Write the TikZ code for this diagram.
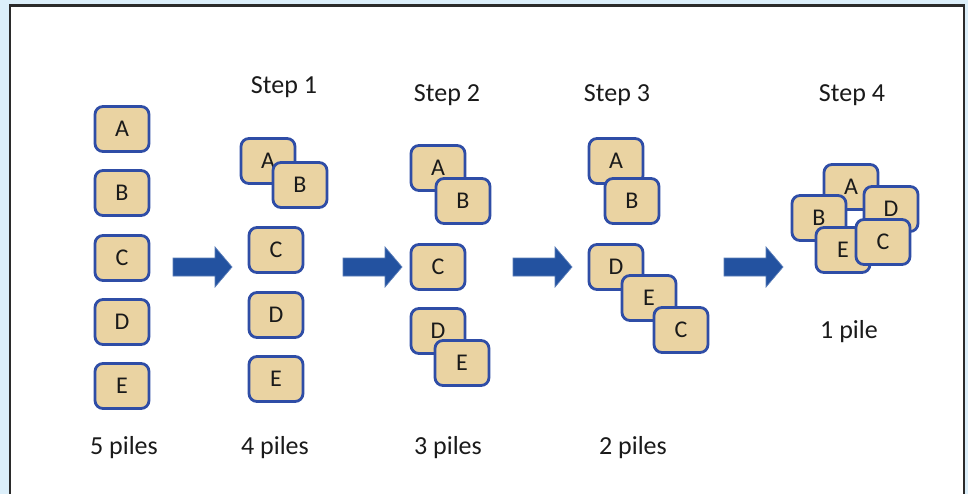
\documentclass[tikz,border=0pt]{standalone}
\usepackage{fontspec}
\setmainfont{Carlito}
\definecolor{bgblue}{HTML}{DCEFFA}
\definecolor{frameC}{HTML}{2B2B2B}
\definecolor{cardfill}{HTML}{EAD3A2}
\definecolor{cardedge}{HTML}{2F4DA6}
\definecolor{arrowC}{HTML}{2352A0}
\definecolor{txt}{HTML}{1A1A1A}
\begin{document}
\begin{tikzpicture}[x=1pt,y=-1pt,
  card/.style={draw=cardedge, line width=2.8pt, fill=cardfill, rounded corners=8pt,
    minimum width=54pt, minimum height=45pt, inner sep=0pt,
    font=\fontsize{24}{26}\selectfont, text=txt},
  lbl/.style={font=\fontsize{26}{30}\selectfont, text=txt, inner sep=0pt},
  blockarrow/.pic={\draw[fill=arrowC, draw=arrowC!75!white, line width=0.7pt]
     (0,-9) -- (42,-9) -- (42,-20) -- (59,0) -- (42,20) -- (42,9) -- (0,9) -- cycle;}]
\useasboundingbox (0,0) rectangle (968,494);
\clip (0,0) rectangle (968,494);
\fill[bgblue] (0,0) rectangle (968,494);
\draw[frameC, line width=2.6pt, fill=white] (10,5.5) rectangle (964,530);

% column 0: 5 piles
\node[card] (a1) at (122,129) {A};
\node[card] (b1) at (122,193) {B};
\node[card] (c1) at (122,258) {C};
\node[card] (d1) at (122,322) {D};
\node[card] (e1) at (122,386) {E};
\node[lbl] (l1) at (124,448) {5 piles};

% step 1
\node[lbl] (s1) at (284,87) {Step 1};
\node[card] (a2) at (268,161) {A};
\node[card] (b2) at (300,185) {B};
\node[card] (c2) at (276,250) {C};
\node[card] (d2) at (276,315) {D};
\node[card] (e2) at (276,379) {E};
\node[lbl] (l2) at (275,448) {4 piles};

% step 2
\node[lbl] (s2) at (447,95) {Step 2};
\node[card] (a3) at (438,168) {A};
\node[card] (b3) at (463,201) {B};
\node[card] (c3) at (438,267) {C};
\node[card] (d3) at (438,331) {D};
\node[card] (e3) at (462,363) {E};
\node[lbl] (l3) at (448,448) {3 piles};

% step 3
\node[lbl] (s3) at (617,95) {Step 3};
\node[card] (a4) at (616,161) {A};
\node[card] (b4) at (632,201) {B};
\node[card] (d4) at (616,267) {D};
\node[card] (e4) at (649,298) {E};
\node[card] (c4) at (681,330) {C};
\node[lbl] (l4) at (633,448) {2 piles};

% step 4
\node[lbl] (s4) at (852,95) {Step 4};
\node[card] (a5) at (851,187) {A};
\node[card] (d5) at (891,209) {D};
\node[card] (b5) at (819,218) {B};
\node[card] (e5) at (843,250) {E};
\node[card] (c5) at (883,242) {C};
\node[lbl] (l5) at (849,332) {1 pile};

% arrows
\pic at (173,267) {blockarrow};
\pic at (343,267) {blockarrow};
\pic at (513,267) {blockarrow};
\pic at (724,267) {blockarrow};
\end{tikzpicture}
\end{document}
